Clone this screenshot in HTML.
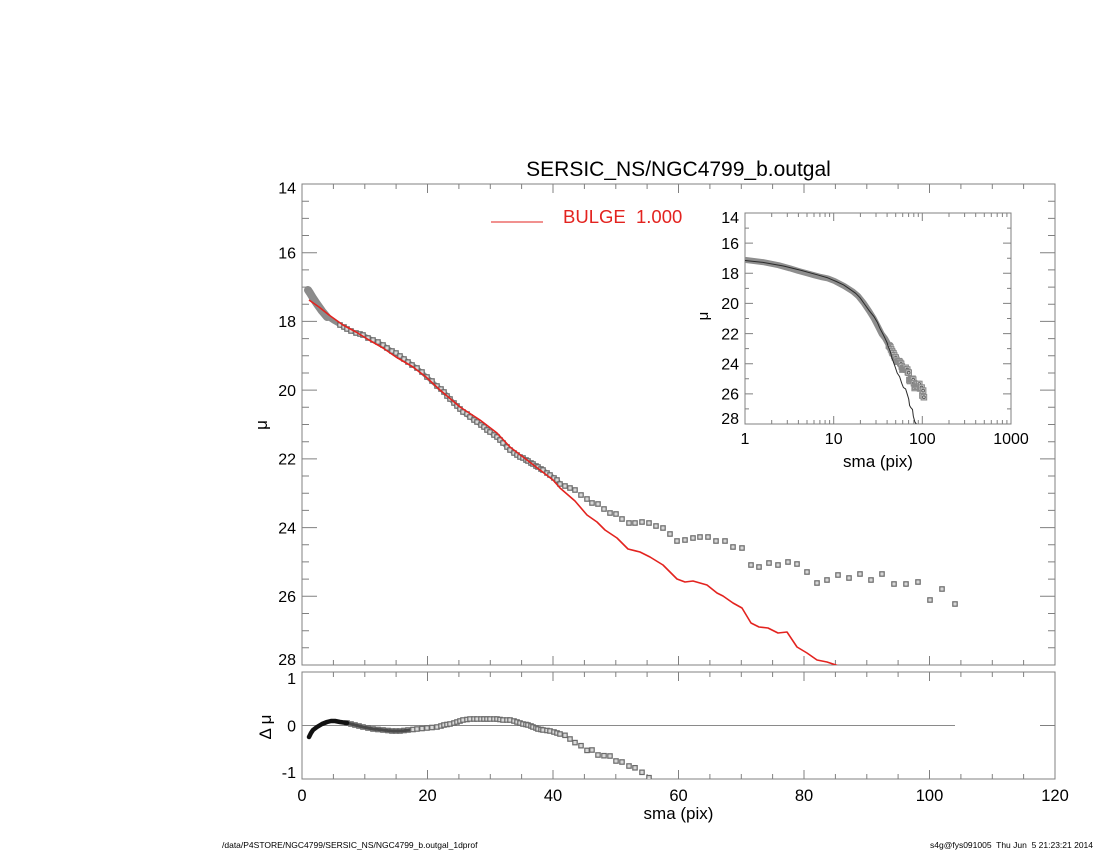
<!DOCTYPE html>
<html>
<head>
<meta charset="utf-8">
<style>
html,body{margin:0;padding:0;background:#fff;}
svg{display:block;}
text{font-family:"Liberation Sans",Arial,sans-serif;fill:#000;white-space:pre;}
</style>
</head>
<body>
<svg width="1100" height="850" viewBox="0 0 1100 850" xmlns="http://www.w3.org/2000/svg">
<defs>
  <marker id="sq" markerUnits="userSpaceOnUse" markerWidth="8" markerHeight="8" refX="4" refY="4" overflow="visible">
    <rect x="1.8" y="1.8" width="4.4" height="4.4" fill="#d8d8d8" stroke="#6a6a6a" stroke-width="1.2"/>
  </marker>
  <marker id="cs" markerUnits="userSpaceOnUse" markerWidth="8" markerHeight="8" refX="4" refY="4" overflow="visible">
    <rect x="1.2" y="1.2" width="5.6" height="5.6" fill="#c9c9c9" stroke="#8a8a8a" stroke-width="1"/>
    <circle cx="4" cy="4" r="1.4" fill="none" stroke="#555" stroke-width="0.8"/>
  </marker>
  <clipPath id="cm"><rect x="302" y="184" width="753" height="481"/></clipPath>
  <clipPath id="cr"><rect x="302" y="672" width="753" height="107"/></clipPath>
  <clipPath id="ci"><rect x="745" y="213" width="266" height="211"/></clipPath>
</defs>

<!-- Title -->
<text x="678.5" y="176" font-size="21" text-anchor="middle">SERSIC_NS/NGC4799_b.outgal</text>

<!-- ================= MAIN PANEL ================= -->
<rect x="302" y="184" width="753" height="481" fill="none" stroke="#808080" stroke-width="1"/>
<g stroke="#808080" stroke-width="1" fill="none">
  <path d="M302 665v-9M427.5 665v-9M553 665v-9M678.5 665v-9M804 665v-9M929.5 665v-9M1055 665v-9
  M333.4 665v-5M364.8 665v-5M396.1 665v-5M458.9 665v-5M490.3 665v-5M521.6 665v-5M584.4 665v-5M615.8 665v-5M647.1 665v-5M709.9 665v-5M741.3 665v-5M772.6 665v-5M835.4 665v-5M866.8 665v-5M898.1 665v-5M960.9 665v-5M992.3 665v-5M1023.6 665v-5
  M302 184v9M427.5 184v9M553 184v9M678.5 184v9M804 184v9M929.5 184v9M1055 184v9
  M333.4 184v5M364.8 184v5M396.1 184v5M458.9 184v5M490.3 184v5M521.6 184v5M584.4 184v5M615.8 184v5M647.1 184v5M709.9 184v5M741.3 184v5M772.6 184v5M835.4 184v5M866.8 184v5M898.1 184v5M960.9 184v5M992.3 184v5M1023.6 184v5"/>
  <path d="M302 184h15M302 252.7h15M302 321.4h15M302 390.1h15M302 458.9h15M302 527.6h15M302 596.3h15M302 665h15
  M302 201.2h7M302 218.4h7M302 235.5h7M302 269.9h7M302 287.1h7M302 304.3h7M302 338.6h7M302 355.8h7M302 373h7M302 407.3h7M302 424.5h7M302 441.7h7M302 476h7M302 493.2h7M302 510.4h7M302 544.8h7M302 561.9h7M302 579.1h7M302 613.5h7M302 630.7h7M302 647.8h7
  M1055 184h-15M1055 252.7h-15M1055 321.4h-15M1055 390.1h-15M1055 458.9h-15M1055 527.6h-15M1055 596.3h-15M1055 665h-15
  M1055 201.2h-7M1055 218.4h-7M1055 235.5h-7M1055 269.9h-7M1055 287.1h-7M1055 304.3h-7M1055 338.6h-7M1055 355.8h-7M1055 373h-7M1055 407.3h-7M1055 424.5h-7M1055 441.7h-7M1055 476h-7M1055 493.2h-7M1055 510.4h-7M1055 544.8h-7M1055 561.9h-7M1055 579.1h-7M1055 613.5h-7M1055 630.7h-7M1055 647.8h-7"/>
</g>

<g font-size="16" text-anchor="end">
  <text x="296" y="193.5">14</text>
  <text x="296" y="258.4">16</text>
  <text x="296" y="327.1">18</text>
  <text x="296" y="395.8">20</text>
  <text x="296" y="464.6">22</text>
  <text x="296" y="533.3">24</text>
  <text x="296" y="602">26</text>
  <text x="296" y="665">28</text>
</g>
<text transform="translate(267,425) rotate(-90)" font-size="17" text-anchor="middle">μ</text>

<!-- Legend -->
<line x1="491" y1="222" x2="543" y2="222" stroke="#e3231f" stroke-width="1"/>
<text x="563" y="223" font-size="18.5" fill="#e3231f" style="fill:#e3231f" xml:space="preserve">BULGE  1.000</text>

<g clip-path="url(#cm)">
<polyline fill="none" stroke="#8a8a8a" stroke-width="8" stroke-linejoin="round" stroke-linecap="round"
  points="308,290 310,293 313,298 317,304 322,311 327,317"/>
<polyline fill="none" stroke="#8c8c8c" stroke-width="4.5" stroke-linejoin="round"
  points="308,291 310,293 313,298 317,304 322,311 327,317 333,321 340,325 347,329 356,333 363,335 373,340 383,345 392,351 400,356 408,362 417,368 427,377 437,386 444,392 450,399 457,406 463,412 470,417 477,422 484,427 490,432 497,437 503,443 510,450 517,455 523,458 528,461 533,464 538,467 543,470 550,475 557,480 560,484"/>
<polyline fill="none" stroke="none" marker-start="url(#sq)" marker-mid="url(#sq)" marker-end="url(#sq)"
  points="340,325 344,327 347,329 351,331 356,333 360,334 363,335 368,338 373,340 378,342 383,345 387,348 392,351 396,353 400,356 404,359 408,362 412,365 417,368 422,372 427,377 432,381 437,386 441,389 444,392 447,396 450,399 454,403 457,406 460,409 463,412 467,414 470,417 474,420 477,422 481,425 484,427 487,430 490,432 494,435 497,437 500,440 503,443 507,447 510,450 514,453 517,455 520,457 523,458 526,460 528,461 531,463 533,464 536,466 538,467 541,469 543,470 547,473 550,475 554,478 557,480 560,484"/>
<polyline fill="none" stroke="none" marker-start="url(#sq)" marker-mid="url(#sq)" marker-end="url(#sq)"
  points="565,486 570,488 575,490 581,495 587,499 592,503 598,504 604,509 610,513 616,514 622,519 629,523 635,523 642,522 649,523 656,526 663,528 670,534 677,541 685,540 693,538 700,537 708,537 716,541 725,541 733,547 742,548 751,565 759,567 769,563 778,565 788,562 797,564 807,572 817,583 827,580 838,575 849,578 860,574 871,580 882,574 894,584 906,584 918,582 930,600 942,589 955,604"/>
<polyline fill="none" stroke="#e3231f" stroke-width="1.6" stroke-linejoin="round"
  points="309,300 319,307 329,315 343,325 356,332 369,340 383,348 396,357 413,367 426,377 440,390 460,407 480,420 497,433 510,447 527,460 540,470 553,480 560,488 575,501 587,515 597,522 605,530 617,538 628,549 640,552 650,557 663,565 670,572 677,579 685,582 693,581 707,585 717,593 723,596 733,603 742,608 751,623 759,627 768,628 778,633 787,632 797,647 807,653 817,660 827,662 836,665 840,667"/>
</g>

<!-- ================= INSET ================= -->
<rect x="745" y="213" width="266" height="211" fill="#fff" stroke="#808080" stroke-width="1"/>
<g stroke="#808080" stroke-width="1" fill="none">
  <path d="M745 213h8M745 243.1h8M745 273.3h8M745 303.4h8M745 333.6h8M745 363.7h8M745 393.9h8M745 424h8
  M745 228.1h4M745 258.2h4M745 288.4h4M745 318.5h4M745 348.6h4M745 378.8h4M745 408.9h4
  M1011 213h-8M1011 243.1h-8M1011 273.3h-8M1011 303.4h-8M1011 333.6h-8M1011 363.7h-8M1011 393.9h-8M1011 424h-8
  M1011 228.1h-4M1011 258.2h-4M1011 288.4h-4M1011 318.5h-4M1011 348.6h-4M1011 378.8h-4M1011 408.9h-4
  M745 424v-8M833.7 424v-8M922.3 424v-8M1011 424v-8
  M771.7 424v-4M787.3 424v-4M798.4 424v-4M807 424v-4M814 424v-4M819.9 424v-4M825.1 424v-4M829.6 424v-4
  M860.4 424v-4M876 424v-4M887.1 424v-4M895.7 424v-4M902.7 424v-4M908.6 424v-4M913.8 424v-4M918.3 424v-4
  M949 424v-4M964.6 424v-4M975.7 424v-4M984.3 424v-4M991.3 424v-4M997.2 424v-4M1002.4 424v-4M1006.9 424v-4
  M745 213v8M833.7 213v8M922.3 213v8M1011 213v8
  M771.7 213v4M787.3 213v4M798.4 213v4M807 213v4M814 213v4M819.9 213v4M825.1 213v4M829.6 213v4
  M860.4 213v4M876 213v4M887.1 213v4M895.7 213v4M902.7 213v4M908.6 213v4M913.8 213v4M918.3 213v4
  M949 213v4M964.6 213v4M975.7 213v4M984.3 213v4M991.3 213v4M997.2 213v4M1002.4 213v4M1006.9 213v4"/>
</g>
<g font-size="16" text-anchor="end">
  <text x="739" y="223">14</text>
  <text x="739" y="248.8">16</text>
  <text x="739" y="279">18</text>
  <text x="739" y="309.1">20</text>
  <text x="739" y="339.3">22</text>
  <text x="739" y="369.4">24</text>
  <text x="739" y="399.6">26</text>
  <text x="739" y="424">28</text>
</g>
<g font-size="16" text-anchor="middle">
  <text x="745" y="444">1</text>
  <text x="833.7" y="444">10</text>
  <text x="922.3" y="444">100</text>
  <text x="1011" y="444">1000</text>
</g>
<text x="878" y="467" font-size="17" text-anchor="middle">sma (pix)</text>
<text transform="translate(708,316) rotate(-90)" font-size="15" text-anchor="middle">μ</text>

<g clip-path="url(#ci)">
<polyline fill="none" stroke="#8e8e8e" stroke-width="6" stroke-linejoin="round" stroke-linecap="round"
  points="746,260 762.9,262.1 778.5,265.2 789.7,268.3 798.2,270.9 806.5,273.1 814.4,275.3 820.9,277 827.9,278.4 834.5,281 844.4,286.2 852.8,291.5 858,295.9 864,303.4 869.3,311.3 873.9,318.7 878,326.6 881.7,334 885.1,338.4 888.2,344.1"/>
<polyline fill="none" stroke="none" marker-start="url(#cs)" marker-mid="url(#cs)" marker-end="url(#cs)"
  points="888.9,345.5 889.6,346.3 890.3,347.2 891.1,349.4 892,351.2 892.6,352.9 893.4,353.4 894.2,355.5 894.9,357.3 895.7,357.7 896.4,359.9 897.2,361.7 897.9,361.7 898.7,361.2 899.5,361.7 900.3,363 901.1,363.9 901.8,366.5 902.5,369.6 903.3,369.1 904.1,368.3 904.8,367.8 905.6,367.8 906.3,369.6 907.2,369.6 907.9,372.2 908.7,372.7 909.4,380.1 910.1,381 911,379.2 911.7,380.1 912.5,378.8 913.2,379.7 914,383.2 914.7,388 915.5,386.7 916.3,384.5 917.1,385.8 917.8,384 918.6,386.7 919.3,384 920.1,388.4 920.9,388.4 921.6,387.6 922.4,395.5 923.1,390.6 923.9,397.2"/>
<polyline fill="none" stroke="#2a2a2a" stroke-width="1" stroke-linejoin="round"
  points="745,260.5 762.9,262.4 783.4,266 801.2,270.4 817.3,274.8 827.9,277.9 836.3,281.5 843.6,284.9 849.3,288.8 855.7,293.3 860,297.7 864,303.4 869.3,310.8 873.9,316.5 877.3,322.2 879.9,328.3 882.9,334 885.1,338.4 887.1,342.8 888.2,346.3 890.4,352 892,358.2 894.4,364.7 897.2,373 899.6,376.6 901.7,383.2 903.4,387.5 905.6,388.9 907.1,393.7 908.7,399 909.6,405.5 910.9,407.7 912.5,409.5 913.3,416.1 914.8,421.8 916.3,424 917,426"/>
</g>

<!-- ================= RESIDUAL PANEL ================= -->
<rect x="302" y="672" width="753" height="107" fill="none" stroke="#808080" stroke-width="1"/>
<g stroke="#808080" stroke-width="1" fill="none">
  <path d="M302 779v-9M427.5 779v-9M553 779v-9M678.5 779v-9M804 779v-9M929.5 779v-9M1055 779v-9
  M333.4 779v-5M364.8 779v-5M396.1 779v-5M458.9 779v-5M490.3 779v-5M521.6 779v-5M584.4 779v-5M615.8 779v-5M647.1 779v-5M709.9 779v-5M741.3 779v-5M772.6 779v-5M835.4 779v-5M866.8 779v-5M898.1 779v-5M960.9 779v-5M992.3 779v-5M1023.6 779v-5
  M302 672v9M427.5 672v9M553 672v9M678.5 672v9M804 672v9M929.5 672v9M1055 672v9
  M333.4 672v5M364.8 672v5M396.1 672v5M458.9 672v5M490.3 672v5M521.6 672v5M584.4 672v5M615.8 672v5M647.1 672v5M709.9 672v5M741.3 672v5M772.6 672v5M835.4 672v5M866.8 672v5M898.1 672v5M960.9 672v5M992.3 672v5M1023.6 672v5
  M302 725.5h15M1055 725.5h-15"/>
  <line x1="302" y1="725.5" x2="955" y2="725.5" stroke="#8a8a8a"/>
</g>
<g font-size="16" text-anchor="end">
  <text x="296" y="684">1</text>
  <text x="296" y="731.5">0</text>
  <text x="296" y="778">-1</text>
</g>
<text transform="translate(271,727) rotate(-90)" font-size="17" text-anchor="middle" xml:space="preserve">Δ μ</text>

<g clip-path="url(#cr)">
<polyline fill="none" stroke="#9a9a9a" stroke-width="3" stroke-linejoin="round"
  points="347,723 355,725 363,727 373,729 383,730 392,731 400,731 408,730 417,729 427,728 437,727 444,725 450,724 457,722 463,720 470,719 477,719 484,719 490,719 497,719 503,720 510,720 517,722 523,724 528,725 533,727 538,729 543,730 550,731 557,733 560,734"/>
<polyline fill="none" stroke="none" marker-start="url(#sq)" marker-mid="url(#sq)" marker-end="url(#sq)"
  points="347,723 351,724 355,725 359,726 363,727 368,728 373,729 378,729.5 383,730 388,730.5 392,731 396,731 400,731 404,730.5 408,730 413,729.5 417,729 422,728.5 427,728 432,727.5 437,727 441,726 444,725 447,724.5 450,724 454,723 457,722 460,721 463,720 467,719.5 470,719 474,719 477,719 481,719 484,719 487,719 490,719 494,719 497,719 500,719.5 503,720 507,720 510,720 514,721 517,722 520,723 523,724 526,724.5 528,725 531,726 533,727 536,728 538,729 541,729.5 543,730 547,730.5 550,731 554,732 557,733 560,734"/>
<polyline fill="none" stroke="none" marker-start="url(#sq)" marker-mid="url(#sq)" marker-end="url(#sq)"
  points="565,735.3 570,739 575,742.6 581,745.7 587,750.4 592,750 598,755 604,755.7 610,756 616,761 622,762 629,766 635,767.8 642,772.3 649,777.7"/>
<polyline fill="none" stroke="#4a4a4a" stroke-width="3" stroke-linejoin="round"
  points="340,722 347,723 355,725 363,727 373,729 383,730 392,731 400,731 410,730"/>
<polyline fill="none" stroke="#111" stroke-width="4.5" stroke-linejoin="round" stroke-linecap="round"
  points="309,737 311,733 313,730 317,727 322,724 327,722 331,721 335,721 340,722 347,723"/>
</g>

<g font-size="16.5" text-anchor="middle">
  <text x="302" y="801">0</text>
  <text x="427.5" y="801">20</text>
  <text x="553" y="801">40</text>
  <text x="678.5" y="801">60</text>
  <text x="804" y="801">80</text>
  <text x="929.5" y="801">100</text>
  <text x="1055" y="801">120</text>
</g>
<text x="678.5" y="819" font-size="17" text-anchor="middle">sma (pix)</text>

<text x="222" y="848" font-size="8.5">/data/P4STORE/NGC4799/SERSIC_NS/NGC4799_b.outgal_1dprof</text>
<text x="930" y="848" font-size="8.5" xml:space="preserve">s4g@fys091005  Thu Jun  5 21:23:21 2014</text>
</svg>
</body>
</html>
